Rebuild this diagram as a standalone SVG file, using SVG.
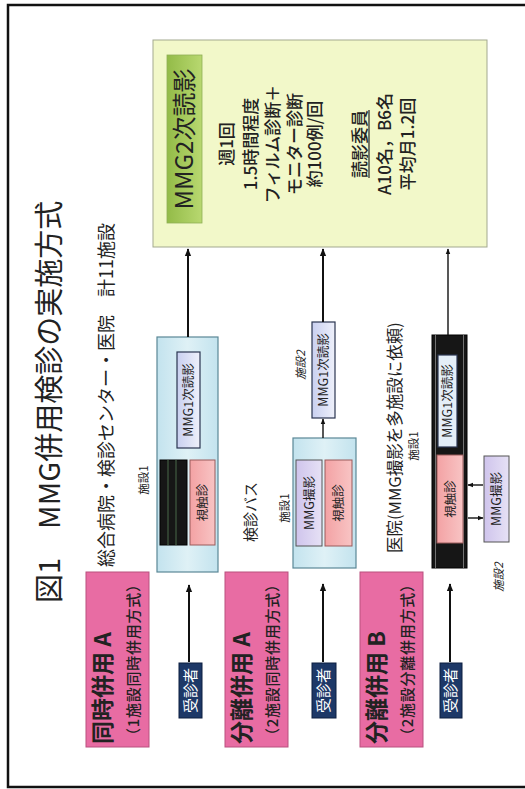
<svg xmlns="http://www.w3.org/2000/svg" width="525" height="789" viewBox="0 0 525 789">
<style>
text{font-family:"Noto Sans CJK JP","Noto Sans",sans-serif;fill:#222}
.pink{fill:#e86ca3;stroke:#b9507f;stroke-width:1}
.ptitle{font-size:23px;font-weight:700}
.psub{font-size:15px;font-weight:500}
.navy{fill:#1d3867;stroke:#0c1e40;stroke-width:1}
.wt{fill:#fff;font-size:15px;text-anchor:middle}
.fac{fill:url(#gBlue);stroke:#5a8796;stroke-width:1.2}
.r1{fill:url(#gRead);stroke:#2a3550;stroke-width:1.2}
.sk{fill:url(#gPinkBox);stroke:#9a5a5a;stroke-width:1}
.mmg{fill:url(#gLav);stroke:#555;stroke-width:1}
.blk{fill:#161616;stroke:#000;stroke-width:1}
.sm{font-size:12.5px;text-anchor:middle}
.lab{font-size:11.5px;text-anchor:middle}
.it{font-style:italic}
.mid{text-anchor:middle}
.body{font-size:17px;text-anchor:middle;font-weight:500}
.ar{stroke:#111;stroke-width:2;fill:none;marker-end:url(#ah)}
.ar2{stroke:#111;stroke-width:1.4;fill:none;marker-end:url(#ah)}
</style>
<defs>
<marker id="ah" viewBox="0 0 10 10" refX="9" refY="5" markerWidth="4" markerHeight="4" orient="auto" markerUnits="strokeWidth"><path d="M0,1 L10,5 L0,9 z" fill="#111"/></marker>
<linearGradient id="gBlue" x1="0" y1="0" x2="0" y2="1"><stop offset="0" stop-color="#c3e3ee"/><stop offset="0.5" stop-color="#dff1f6"/><stop offset="1" stop-color="#c3e3ee"/></linearGradient>
<linearGradient id="gRead" x1="0" y1="0" x2="0" y2="1"><stop offset="0" stop-color="#c9d0f0"/><stop offset="1" stop-color="#eef0fa"/></linearGradient>
<linearGradient id="gPinkBox" x1="0" y1="0" x2="0" y2="1"><stop offset="0" stop-color="#f3a2a4"/><stop offset="1" stop-color="#f8c4c4"/></linearGradient>
<linearGradient id="gLav" x1="0" y1="0" x2="0" y2="1"><stop offset="0" stop-color="#cfc4ec"/><stop offset="1" stop-color="#e6e1f5"/></linearGradient>
<linearGradient id="gGreen" x1="0" y1="0" x2="0" y2="1"><stop offset="0" stop-color="#93bb48"/><stop offset="1" stop-color="#b8d870"/></linearGradient>
</defs>
<rect width="525" height="789" fill="#fff"/>
<g transform="translate(0,789) rotate(-90)">
  <rect x="2" y="8" width="782" height="540" fill="none" stroke="#111" stroke-width="2.5"/>
  <g id="title">
    <text x="186" y="60" font-size="29">図1　MMG併用検診の実施方式</text>
    <text x="222" y="113" font-size="18">総合病院・検診センター・医院　計11施設</text>
  </g>

  <g id="mmg2">
    <rect x="542" y="153" width="207" height="334" fill="#f2f8c9" stroke="#a3a98f" stroke-width="1"/>
    <rect x="566" y="167" width="168" height="35" fill="url(#gGreen)" stroke="#8fae55" stroke-width="0.8"/>
    <text x="650" y="193" font-size="24" class="mid">MMG2次読影</text>
    <text x="645" y="233" class="body">週1回</text>
    <text x="645" y="257" class="body">1.5時間程度</text>
    <text x="645" y="279" class="body">フィルム診断＋</text>
    <text x="645" y="301" class="body">モニター診断</text>
    <text x="645" y="321" class="body">約100例/回</text>
    <text x="645" y="366" class="body">読影委員</text>
    <line x1="611" y1="369" x2="679" y2="369" stroke="#222" stroke-width="1.2"/>
    <text x="645" y="391" class="body">A10名，B6名</text>
    <text x="645" y="414" class="body">平均月1.2回</text>
  </g>

  <g id="row1">
    <rect class="pink" x="42" y="86" width="175" height="63"/>
    <text class="ptitle" x="45" y="111">同時併用 A</text>
    <text class="psub" x="46" y="139" textLength="166" lengthAdjust="spacing">（1施設同時併用方式）</text>
  </g>
  <g id="row1-patient">
    <rect class="navy" x="71" y="179" width="55" height="23"/>
    <text class="wt" x="98.5" y="196">受診者</text>
  </g>
  <g id="row1-fac1">
    <text class="lab" x="309" y="148">施設1</text>
    <rect class="fac" x="217" y="157" width="235" height="61"/>
    <rect class="r1" x="341" y="177" width="96" height="23"/>
    <text class="sm" x="389" y="193">MMG1次読影</text>
    <rect class="blk" x="244" y="160" width="85" height="27"/>
    <line x1="244" y1="168" x2="329" y2="168" stroke="#2f3f2f" stroke-width="2"/>
    <line x1="244" y1="176" x2="329" y2="176" stroke="#2f3f2f" stroke-width="2"/>
    <rect class="sk" x="244" y="190" width="85" height="25"/>
    <text class="sm" x="286.5" y="207">視触診</text>
  </g>

  <g id="row2">
    <rect class="pink" x="42" y="225" width="175" height="63"/>
    <text class="ptitle" x="45" y="250">分離併用 A</text>
    <text class="psub" x="46" y="278" textLength="166" lengthAdjust="spacing">（2施設同時併用方式）</text>
  </g>
  <g id="row2-patient">
    <rect class="navy" x="71" y="312" width="55" height="24"/>
    <text class="wt" x="98.5" y="329">受診者</text>
  </g>
  <g id="row2-fac1">
    <text class="mid" x="277" y="256" font-size="15">検診バス</text>
    <text class="lab" x="281" y="289">施設1</text>
    <rect class="fac" x="221" y="293" width="130" height="63"/>
    <rect class="mmg" x="243" y="296" width="86" height="26"/>
    <text class="sm" x="286" y="314">MMG撮影</text>
    <rect class="sk" x="243" y="325" width="86" height="27"/>
    <text class="sm" x="286" y="343">視触診</text>
  </g>
  <g id="row2-fac2">
    <text class="lab it" x="424" y="305">施設2</text>
    <rect class="r1" x="371" y="312" width="96" height="23"/>
    <text class="sm" x="419" y="328">MMG1次読影</text>
  </g>

  <g id="row3">
    <rect class="pink" x="42" y="360" width="175" height="63"/>
    <text class="ptitle" x="45" y="385">分離併用 B</text>
    <text class="psub" x="46" y="413" textLength="166" lengthAdjust="spacing">（2施設分離併用方式）</text>
  </g>
  <g id="row3-patient">
    <rect class="navy" x="71" y="440" width="55" height="22"/>
    <text class="wt" x="98.5" y="456">受診者</text>
  </g>
  <g id="row3-fac1">
    <text x="236" y="401" font-size="16.5">医院(MMG撮影を多施設に依頼)</text>
    <text class="lab" x="343" y="418">施設1</text>
    <rect class="blk" x="221" y="432" width="233" height="35"/>
    <line x1="221" y1="435.5" x2="454" y2="435.5" stroke="#8a8a8a" stroke-width="0.8"/>
    <line x1="221" y1="463.5" x2="454" y2="463.5" stroke="#8a8a8a" stroke-width="0.8"/>
    <rect class="r1" x="342" y="438" width="92" height="19" style="fill:#e4eef8"/>
    <text class="sm" x="388" y="452" font-size="12">MMG1次読影</text>
    <rect class="sk" x="246" y="437" width="88" height="26"/>
    <text class="sm" x="290" y="455">視触診</text>
  </g>
  <g id="row3-fac2">
    <rect class="mmg" x="247" y="484" width="86" height="25"/>
    <text class="sm" x="290" y="501">MMG撮影</text>
    <text class="lab it" x="212" y="503">施設2</text>
  </g>

  <g id="connectors">
    <line class="ar" x1="127" y1="189" x2="204" y2="189"/>
    <line class="ar" x1="127" y1="323" x2="205" y2="323"/>
    <line class="ar" x1="127" y1="450" x2="205" y2="450"/>
    <line class="ar" x1="452" y1="188" x2="540" y2="188"/>
    <line class="ar2" x1="351" y1="323" x2="370" y2="323"/>
    <line class="ar" x1="467" y1="323" x2="540" y2="323"/>
    <line class="ar2" x1="454" y1="448" x2="540" y2="448"/>
    <line class="ar2" x1="304" y1="483" x2="304" y2="468"/>
    <line class="ar2" x1="271" y1="468" x2="271" y2="483"/>
  </g>
</g>
</svg>
